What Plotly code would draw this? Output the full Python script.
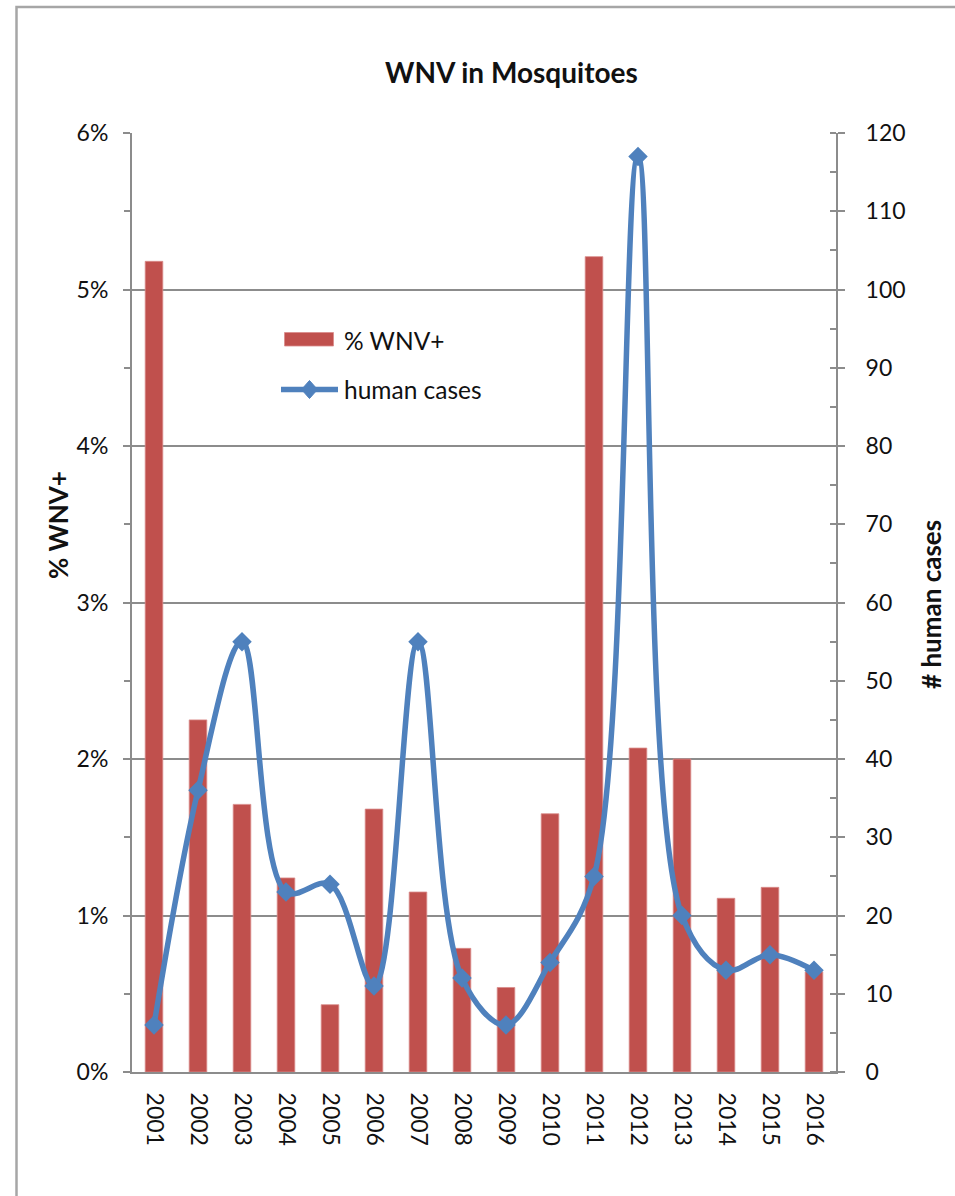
import plotly.graph_objects as go

# WNV surveillance: mosquito pool positivity vs. human cases
years = ["2001", "2002", "2003", "2004", "2005", "2006", "2007", "2008",
         "2009", "2010", "2011", "2012", "2013", "2014", "2015", "2016"]
pct_wnv_pos = [0.0518, 0.0225, 0.0171, 0.0124, 0.0043, 0.0168, 0.0115, 0.0079,
               0.0054, 0.0165, 0.0521, 0.0207, 0.0200, 0.0111, 0.0118, 0.0064]
human_cases = [6, 36, 55, 23, 24, 11, 55, 12, 6, 14, 25, 117, 20, 13, 15, 13]

BAR_RED = "#C0504D"
LINE_BLUE = "#4F81BD"
AXIS_GRAY = "#8C8C8C"
FONT = "Lato, 'Open Sans', sans-serif"

W, H = 955, 1196
L, R, T, B = 132, 119, 133, 124
PW, PH = W - L - R, H - T - B


def px_x(x):
    return (x - L) / PW


def px_y(y):
    return (H - B - y) / PH


fig = go.Figure()

fig.add_trace(go.Bar(
    x=years, y=pct_wnv_pos, name="% WNV+",
    marker=dict(color=BAR_RED, line=dict(color="#D98C8A", width=0.8)),
    width=0.4, yaxis="y",
))

fig.add_trace(go.Scatter(
    x=years, y=human_cases, name="human cases", yaxis="y2",
    mode="lines+markers",
    line=dict(color=LINE_BLUE, width=5.5, shape="spline", smoothing=1.0),
    marker=dict(symbol="diamond", size=15, color=LINE_BLUE),
))

fig.update_layout(
    width=W, height=H,
    margin=dict(l=L, r=R, t=T, b=B),
    paper_bgcolor="white", plot_bgcolor="white",
    font=dict(family=FONT, size=23, color="#111"),
    showlegend=False,
    bargap=0.6,
    xaxis=dict(
        type="category", range=[-0.5, len(years) - 0.5],
        showline=True, linecolor=AXIS_GRAY, linewidth=2,
        showgrid=False, ticks="", tickangle=90, ticklabelstandoff=14,
        tickfont=dict(size=23, family=FONT, color="#111"),
    ),
    yaxis=dict(
        range=[0, 0.06], dtick=0.01, tickformat=".0%",
        showline=True, linecolor=AXIS_GRAY, linewidth=2,
        showgrid=True, gridcolor=AXIS_GRAY, gridwidth=1.8,
        ticks="outside", ticklen=7, tickcolor=AXIS_GRAY, tickwidth=2,
        minor=dict(dtick=0.005, ticks="outside", ticklen=6,
                   tickcolor=AXIS_GRAY, tickwidth=2, showgrid=False),
        ticklabelstandoff=10, zeroline=False,
        tickfont=dict(size=23, family=FONT, color="#111"),
    ),
    yaxis2=dict(
        range=[0, 120], dtick=10, overlaying="y", side="right",
        showline=True, linecolor=AXIS_GRAY, linewidth=2,
        showgrid=False, zeroline=False,
        ticks="outside", ticklen=7, tickcolor=AXIS_GRAY, tickwidth=2,
        minor=dict(dtick=5, ticks="inside", ticklen=6,
                   tickcolor=AXIS_GRAY, tickwidth=2, showgrid=False),
        ticklabelstandoff=16,
        tickfont=dict(size=23, family=FONT, color="#111"),
    ),
)

# Title and axis titles
fig.add_annotation(text="<b>WNV in Mosquitoes</b>", xref="paper", yref="paper",
                   x=px_x(511), y=px_y(72), xanchor="center", yanchor="middle",
                   showarrow=False, font=dict(size=28, family=FONT, color="#111"))
fig.add_annotation(text="<b>% WNV+</b>", xref="paper", yref="paper",
                   x=px_x(58), y=px_y(525), xanchor="center", yanchor="middle",
                   showarrow=False, textangle=-90,
                   font=dict(size=26, family=FONT, color="#111"))
fig.add_annotation(text="<b># human cases</b>", xref="paper", yref="paper",
                   x=px_x(931), y=px_y(605), xanchor="center", yanchor="middle",
                   showarrow=False, textangle=-90,
                   font=dict(size=26, family=FONT, color="#111"))

# Legend, drawn inside the plot area
fig.add_shape(type="rect", xref="paper", yref="paper",
              x0=px_x(284.5), x1=px_x(333.5), y0=px_y(346), y1=px_y(332.5),
              fillcolor=BAR_RED, line=dict(color="#D98C8A", width=0.8))
fig.add_annotation(text="% WNV+", xref="paper", yref="paper",
                   x=px_x(342), y=px_y(340), xanchor="left", yanchor="middle",
                   showarrow=False, font=dict(size=24.5, family=FONT, color="#111"))
fig.add_shape(type="line", xref="paper", yref="paper",
              x0=px_x(281), x1=px_x(338), y0=px_y(389.5), y1=px_y(389.5),
              line=dict(color=LINE_BLUE, width=5.5))
fig.add_shape(type="path", xref="paper", yref="paper",
              path=(f"M {px_x(309.5)},{px_y(380.5)} L {px_x(317.5)},{px_y(389.5)} "
                    f"L {px_x(309.5)},{px_y(398.5)} L {px_x(301.5)},{px_y(389.5)} Z"),
              fillcolor=LINE_BLUE, line=dict(color=LINE_BLUE, width=1))
fig.add_annotation(text="human cases", xref="paper", yref="paper",
                   x=px_x(342), y=px_y(390), xanchor="left", yanchor="middle",
                   showarrow=False, font=dict(size=24.5, family=FONT, color="#111"))

# Chart-area frame (left and top edges)
fig.add_shape(type="path", xref="paper", yref="paper",
              path=f"M {px_x(16.5)},{px_y(1250)} L {px_x(16.5)},{px_y(7)} L {px_x(1000)},{px_y(7)}",
              line=dict(color="#A6A6A6", width=2.5))

fig.write_html("out.html")
